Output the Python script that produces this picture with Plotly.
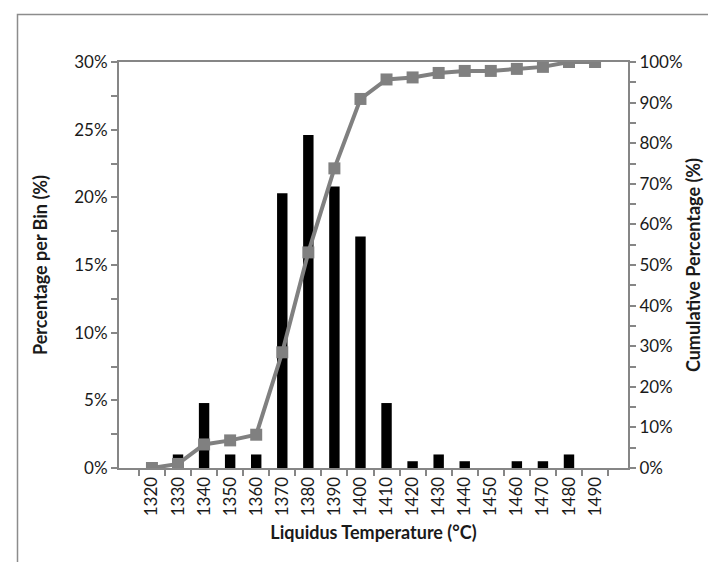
import plotly.graph_objects as go

temps = ["1320", "1330", "1340", "1350", "1360", "1370", "1380", "1390", "1400",
         "1410", "1420", "1430", "1440", "1450", "1460", "1470", "1480", "1490"]
pct_per_bin = [0, 1.0, 4.8, 1.0, 1.0, 20.3, 24.6, 20.8, 17.1,
               4.8, 0.5, 1.0, 0.5, 0, 0.5, 0.5, 1.0, 0]
cumulative = [0, 1.0, 5.8, 6.8, 8.2, 28.5, 53.1, 73.8, 90.9,
              95.7, 96.2, 97.3, 97.8, 97.8, 98.3, 98.8, 100, 100]

W, H = 716, 562
L, R, T, B = 111, 96, 54, 102
pw, ph = W - L - R, H - T - B

def px(x):
    return (x - L) / pw

def py(y):
    return (H - B - y) / ph

FONT = "Lato"
AX = "#868686"
TXT = "#1a1a1a"

fig = go.Figure()
fig.add_trace(go.Bar(x=temps, y=[v / 100 for v in pct_per_bin],
                     marker=dict(color="black", line=dict(width=0)),
                     yaxis="y", showlegend=False))
fig.add_trace(go.Scatter(x=temps, y=[v / 100 for v in cumulative],
                         mode="lines+markers", yaxis="y2",
                         line=dict(color="#808080", width=4),
                         marker=dict(symbol="square", size=12, color="#808080"),
                         showlegend=False))

fig.update_layout(
    width=W, height=H,
    margin=dict(l=L, r=R, t=T, b=B),
    paper_bgcolor="white", plot_bgcolor="white",
    bargap=0.6,
    font=dict(family=FONT, size=17, color=TXT),
    xaxis=dict(
        type="category", tickson="boundaries", ticks="outside", ticklen=6,
        tickcolor=AX, tickwidth=2, showline=True, linecolor=AX, linewidth=2,
        mirror=True, tickangle=-90, showgrid=False, automargin=False,
        title=dict(text="<b>Liquidus Temperature (°C)</b>", standoff=11,
                   font=dict(size=18)),
    ),
    yaxis=dict(
        range=[0, 0.30], dtick=0.05, tickformat=".0%", ticks="outside",
        ticklen=6, tickcolor=AX, tickwidth=2, showline=True, linecolor=AX,
        linewidth=2, showgrid=False, zeroline=False, automargin=False,
        minor=dict(dtick=0.025, ticks="outside", ticklen=6, tickcolor=AX, tickwidth=2),
        title=dict(text="<b>Percentage per Bin (%)</b>", standoff=22,
                   font=dict(size=18)),
    ),
    yaxis2=dict(
        range=[0, 1.0], dtick=0.1, tickformat=".0%", ticks="outside",
        ticklen=6, tickcolor=AX, tickwidth=2, showline=True, linecolor=AX,
        linewidth=2, showgrid=False, zeroline=False, overlaying="y",
        side="right", automargin=False,
        minor=dict(dtick=0.05, ticks="outside", ticklen=6, tickcolor=AX, tickwidth=2),
        title=dict(text="<b>Cumulative Percentage (%)</b>", standoff=6,
                   font=dict(size=18)),
    ),
    shapes=[
        dict(type="path", xref="paper", yref="paper",
             path=f"M {px(9.5)} {py(600)} L {px(9.5)} {py(6.5)} L {px(760)} {py(6.5)}",
             line=dict(color="#8c8c8c", width=1.5)),
    ],
)

fig.write_html("out.html")
